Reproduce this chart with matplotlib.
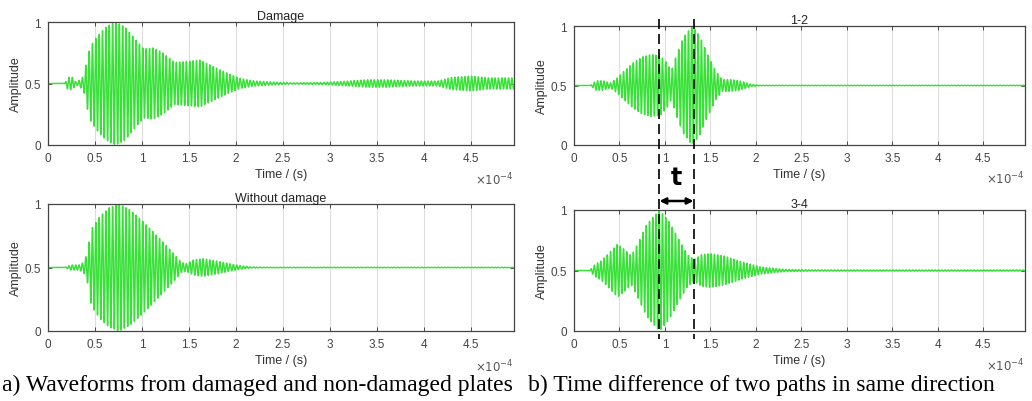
import numpy as np
import matplotlib
matplotlib.use("Agg")
import matplotlib.pyplot as plt
from matplotlib.lines import Line2D

# ---------------- data ----------------
carrier_freq = 280e3  # Hz, oscillation frequency of the waveforms

# envelope knots: time in units of 1e-4 s, half-amplitude around 0.5
damage_t = [0, 0.18, 0.21, 0.26, 0.30, 0.34, 0.38, 0.41, 0.45, 0.52, 0.62, 0.72, 0.82,
            0.95, 1.02, 1.12, 1.22, 1.35, 1.48, 1.62, 1.78, 1.92, 2.05, 2.2, 2.4, 2.6,
            2.9, 3.2, 3.4, 3.6, 3.9, 4.15, 4.3, 4.5, 4.7, 4.96]
damage_env = [0, 0, 0.05, 0.05, 0.01, 0.03, 0.06, 0.18, 0.30, 0.38, 0.46, 0.50, 0.46,
              0.34, 0.28, 0.29, 0.25, 0.17, 0.18, 0.19, 0.13, 0.08, 0.04, 0.02, 0.012, 0.005,
              0.008, 0.02, 0.03, 0.03, 0.02, 0.02, 0.05, 0.06, 0.045, 0.045]

without_t = [0, 0.18, 0.24, 0.33, 0.38, 0.42, 0.46, 0.55, 0.65, 0.76, 0.88, 1.0,
             1.12, 1.25, 1.35, 1.42, 1.47, 1.55, 1.65, 1.8, 2.0, 2.15, 2.3, 4.96]
without_env = [0, 0, 0.02, 0.02, 0.04, 0.12, 0.30, 0.40, 0.47, 0.50, 0.45, 0.37,
               0.28, 0.18, 0.10, 0.04, 0.03, 0.06, 0.07, 0.05, 0.02, 0.005, 0.002, 0.002]

p12_t = [0, 0.18, 0.24, 0.32, 0.40, 0.47, 0.55, 0.65, 0.75, 0.85, 0.95, 1.02, 1.07,
         1.12, 1.20, 1.30, 1.38, 1.47, 1.56, 1.63, 1.72, 1.82, 1.95, 2.05, 4.96]
p12_env = [0, 0, 0.04, 0.04, 0.02, 0.06, 0.12, 0.19, 0.24, 0.26, 0.25, 0.19, 0.12,
           0.24, 0.40, 0.50, 0.42, 0.26, 0.12, 0.05, 0.05, 0.04, 0.01, 0.002, 0.002]

p34_t = [0, 0.17, 0.23, 0.30, 0.38, 0.48, 0.56, 0.63, 0.70, 0.80, 0.94, 1.05, 1.15,
         1.25, 1.32, 1.40, 1.50, 1.65, 1.85, 2.05, 2.3, 2.6, 4.96]
p34_env = [0, 0, 0.05, 0.08, 0.14, 0.22, 0.17, 0.12, 0.22, 0.38, 0.50, 0.40, 0.26,
           0.13, 0.09, 0.13, 0.14, 0.12, 0.07, 0.03, 0.01, 0.005, 0.005]

titles = ["Damage", "Without damage", "1-2", "3-4"]
tick_labels = ["0", "0.5", "1", "1.5", "2", "2.5", "3", "3.5", "4", "4.5"]
tick_vals = [0, 0.5, 1, 1.5, 2, 2.5, 3, 3.5, 4, 4.5]
dash_times = [0.94, 1.315]  # 1e-4 s
captions = ["a) Waveforms from damaged and non-damaged plates",
            "b) Time difference of two paths in same direction"]

# ---------------- figure ----------------
W, H = 1032, 402
fig = plt.figure(figsize=(W / 100, H / 100), dpi=100)
plt.rcParams['font.family'] = ['Liberation Sans', 'DejaVu Sans']


def px_rect(x0, y0, x1, y1):
    return [x0 / W, (H - y1) / H, (x1 - x0) / W, (y1 - y0) / H]


rects = [px_rect(48, 23, 514, 146), px_rect(48, 205, 514, 332),
         px_rect(574, 27, 1025, 146), px_rect(574, 211, 1025, 332)]
envs = [(damage_t, damage_env), (without_t, without_env),
        (p12_t, p12_env), (p34_t, p34_env)]

t = np.linspace(0, 4.96e-4, 8000)
green = '#38e038'
axes = []
for rect, (kt, ke), title in zip(rects, envs, titles):
    ax = fig.add_axes(rect)
    env = np.interp(t, np.array(kt) * 1e-4, ke)
    y = 0.5 + env * np.sin(2 * np.pi * carrier_freq * t)
    ax.plot(t, y, color=green, lw=1.05)
    ax.set_xlim(0, 4.96e-4)
    ax.set_ylim(0, 1)
    ax.set_xticks(np.array(tick_vals) * 1e-4)
    ax.set_xticklabels(tick_labels)
    ax.set_yticks([0, 0.5, 1])
    ax.set_yticklabels(["0", "0.5", "1"])
    ax.tick_params(direction='in', top=True, right=True, length=3, width=0.6,
                   labelsize=8.5, labelcolor='#444444', colors='#333333', pad=5)
    ax.grid(axis='x', color='#dddddd', lw=0.8)
    ax.set_axisbelow(True)
    for s in ax.spines.values():
        s.set_color('#444444')
        s.set_linewidth(0.9)
    ax.set_title(title, fontsize=9, pad=2, color='#222222')
    ax.set_ylabel("Amplitude", fontsize=9, color='#333333', labelpad=2)
    ax.set_xlabel("Time / (s)", fontsize=9, color='#333333', labelpad=3)
    ax.text(1.0, -0.21, r"$\times10^{-4}$", transform=ax.transAxes, ha='right',
            va='top', fontsize=8.5, color='#555555')
    axes.append(ax)

# dashed marker lines across the right panels
inv = fig.transFigure.inverted()
xs_fig = []
for tt in dash_times:
    xd = axes[2].transData.transform((tt * 1e-4, 0))[0]
    xf = inv.transform((xd, 0))[0]
    xs_fig.append(xf)
    fig.add_artist(Line2D([xf, xf], [(H - 20) / H, (H - 340) / H],
                          transform=fig.transFigure, color='black', lw=1.2,
                          ls=(0, (6, 3))))

ya = (H - 202) / H
fig.add_artist(matplotlib.patches.FancyArrowPatch(
    (xs_fig[0], ya), (xs_fig[1], ya), transform=fig.transFigure,
    arrowstyle='<|-|>', mutation_scale=9, color='black', lw=1.8,
    shrinkA=0, shrinkB=0))
fig.text((xs_fig[0] + xs_fig[1]) / 2, (H - 178) / H, "t", ha='center', va='center',
         fontsize=17, fontweight='bold', family='DejaVu Sans')

fig.text(513 / W, (H - 385) / H, captions[0], ha='right', va='center',
         fontsize=17.0, family='Liberation Serif')
fig.text(528 / W, (H - 385) / H, captions[1], ha='left', va='center',
         fontsize=17.0, family='Liberation Serif')

fig.savefig("out.png", dpi=100)
